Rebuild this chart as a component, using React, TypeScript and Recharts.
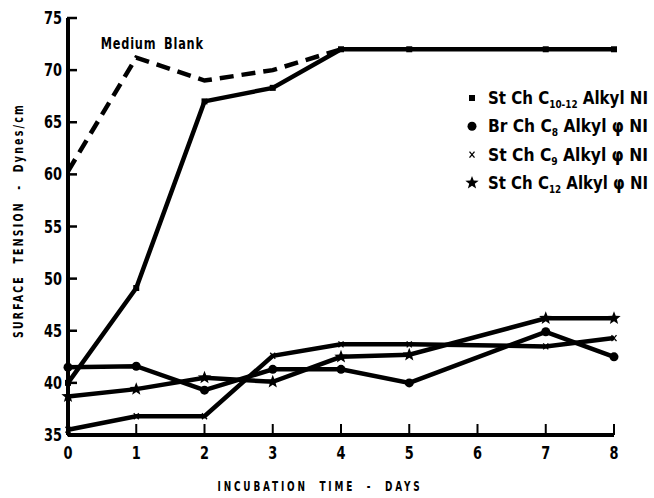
import { LineChart, Line, XAxis, YAxis, Label, LabelList } from 'recharts'

// incubation days and surface tension readings (dynes/cm)
const days = [0, 1, 2, 3, 4, 5, 6, 7, 8]
const mediumBlank = [60.3, 71.2, 69.0, 70.0, 72.0, null, null, null, null]
const stChC1012 = [40.0, 49.1, 67.0, 68.3, 72.0, 72.0, null, 72.0, 72.0]
const brChC8 = [41.5, 41.6, 39.3, 41.3, 41.3, 40.0, null, 44.9, 42.5]
const stChC9 = [35.5, 36.8, 36.8, 42.6, 43.7, 43.7, null, 43.5, 44.3]
const stChC12 = [38.7, 39.4, 40.5, 40.1, 42.5, 42.7, null, 46.2, 46.2]

const yTicks = [35, 40, 45, 50, 55, 60, 65, 70, 75]
const xTicks = [0, 1, 2, 3, 4, 5, 6, 7, 8]

const data = days.map((d, i) => ({
  day: d,
  blank: mediumBlank[i],
  c1012: stChC1012[i],
  c8: brChC8[i],
  c9: stChC9[i],
  c12: stChC12[i],
}))

const FONT = '"DejaVu Sans Condensed", "DejaVu Sans", sans-serif'
const txt = { fontFamily: FONT, fontWeight: 'bold' as const, fill: '#000' }

const starPath = (cx: number, cy: number, r: number) => {
  const pts: string[] = []
  for (let i = 0; i < 10; i++) {
    const rad = i % 2 === 0 ? r : r * 0.42
    const a = -Math.PI / 2 + (i * Math.PI) / 5
    pts.push(`${cx + rad * Math.cos(a)},${cy + rad * Math.sin(a)}`)
  }
  return `M${pts.join('L')}Z`
}

const Marker = ({ kind, cx, cy }: { kind: string; cx: number; cy: number }) => {
  if (kind === 'square') return <rect x={cx - 3} y={cy - 3} width={6} height={6} fill="#000" />
  if (kind === 'circle') return <circle cx={cx} cy={cy} r={4.5} fill="#000" />
  if (kind === 'x')
    return (
      <g stroke="#000" strokeWidth={1.3}>
        <line x1={cx - 2.5} y1={cy - 3} x2={cx + 2.5} y2={cy + 3} />
        <line x1={cx + 2.5} y1={cy - 3} x2={cx - 2.5} y2={cy + 3} />
      </g>
    )
  if (kind === 'star') return <path d={starPath(cx, cy, 7)} fill="#000" />
  return null
}

const dotFor = (kind: string) => (props: any) => {
  const { cx, cy, index, value } = props
  if (cx == null || cy == null || value == null) return <g key={`${kind}-${index}`} />
  return (
    <g key={`${kind}-${index}`}>
      <Marker kind={kind} cx={cx} cy={cy} />
    </g>
  )
}

const YTick = (props: any) => {
  const { x, y, payload } = props
  return (
    <g>
      <line x1={x + 5} x2={x + 15} y1={y} y2={y} stroke="#000" strokeWidth={2.5} />
      <text x={x} y={y} dy={6} textAnchor="end" fontSize={18} textLength={18} lengthAdjust="spacingAndGlyphs" {...txt}>
        {payload.value}
      </text>
    </g>
  )
}

const XTick = (props: any) => {
  const { x, y, payload } = props
  return (
    <g>
      {payload.value !== 0 && <line x1={x} x2={x} y1={y - 8} y2={y - 19} stroke="#000" strokeWidth={2} />}
      <text x={x} y={y} dy={16} textAnchor="middle" fontSize={18} textLength={9} lengthAdjust="spacingAndGlyphs" {...txt}>
        {payload.value}
      </text>
    </g>
  )
}

const legendItems = [
  { kind: 'square', pre: 'St Ch C', sub: '10-12', post: ' Alkyl NI' },
  { kind: 'circle', pre: 'Br Ch C', sub: '8', post: ' Alkyl φ NI' },
  { kind: 'x', pre: 'St Ch C', sub: '9', post: ' Alkyl φ NI' },
  { kind: 'star', pre: 'St Ch C', sub: '12', post: ' Alkyl φ NI' },
]

const LegendBox = () => (
  <svg width={654} height={498} style={{ position: 'absolute', left: 0, top: 0, pointerEvents: 'none' }}>
    {legendItems.map((it, i) => {
      const cy = 98 + i * 28.3
      return (
        <g key={it.kind}>
          <Marker kind={it.kind} cx={472} cy={cy} />
          <text x={488} y={cy + 6} fontSize={17} textLength={160} lengthAdjust="spacingAndGlyphs" {...txt}>
            {it.pre}
            <tspan fontSize={10} dy={4}>{it.sub}</tspan>
            <tspan dy={-4}>{it.post}</tspan>
          </text>
        </g>
      )
    })}
  </svg>
)

const BlankLabel = (props: any) => {
  const { x, y, index } = props
  if (index !== 1) return null
  return (
    <text
      x={x + 16}
      y={y - 9}
      textAnchor="middle"
      fontSize={16}
      wordSpacing={4}
      letterSpacing={1}
      textLength={103}
      lengthAdjust="spacingAndGlyphs"
      {...txt}
    >
      Medium Blank
    </text>
  )
}

export default function App() {
  return (
    <div style={{ position: 'absolute', left: 0, top: 0, width: 654, height: 498, background: '#fff' }}>
      <LineChart width={654} height={498} data={data} margin={{ top: 18, right: 40, bottom: 3, left: 0 }}>
        <XAxis
          dataKey="day"
          type="number"
          domain={[0, 8]}
          ticks={xTicks}
          height={60}
          tickSize={0}
          tickMargin={8}
          tickLine={false}
          tick={<XTick />}
          axisLine={{ stroke: '#000', strokeWidth: 4 }}
        >
          <Label
            content={({ viewBox }: any) => (
              <text
                x={320}
                y={viewBox.y + 56}
                textAnchor="middle"
                fontSize={14}
                letterSpacing={4}
                wordSpacing={8}
                textLength={205}
                lengthAdjust="spacingAndGlyphs"
                {...txt}
              >
                INCUBATION TIME - DAYS
              </text>
            )}
          />
        </XAxis>
        <YAxis
          type="number"
          domain={[35, 75]}
          ticks={yTicks}
          width={68}
          tickSize={0}
          tickMargin={6}
          tickLine={false}
          tick={<YTick />}
          axisLine={{ stroke: '#000', strokeWidth: 4 }}
        >
          <Label
            content={({ viewBox }: any) => {
              const cx = 18
              const cy = viewBox.y + viewBox.height / 2 - 6
              return (
                <text
                  x={cx}
                  y={cy}
                  transform={`rotate(-90 ${cx} ${cy})`}
                  textAnchor="middle"
                  dominantBaseline="central"
                  fontSize={14}
                  letterSpacing={3}
                  wordSpacing={8}
                  textLength={235}
                  lengthAdjust="spacingAndGlyphs"
                  {...txt}
                >
                  SURFACE TENSION - Dynes/cm
                </text>
              )
            }}
          />
        </YAxis>
        <Line
          dataKey="blank"
          stroke="#000"
          strokeWidth={4.5}
          strokeDasharray="14 8"
          dot={false}
          isAnimationActive={false}
        >
          <LabelList dataKey="blank" content={<BlankLabel />} />
        </Line>
        <Line dataKey="c1012" stroke="#000" strokeWidth={4.5} connectNulls dot={dotFor('square')} isAnimationActive={false} />
        <Line dataKey="c8" stroke="#000" strokeWidth={4.5} connectNulls dot={dotFor('circle')} isAnimationActive={false} />
        <Line dataKey="c9" stroke="#000" strokeWidth={4.5} connectNulls dot={dotFor('x')} isAnimationActive={false} />
        <Line dataKey="c12" stroke="#000" strokeWidth={4.5} connectNulls dot={dotFor('star')} isAnimationActive={false} />
      </LineChart>
      <LegendBox />
    </div>
  )
}
